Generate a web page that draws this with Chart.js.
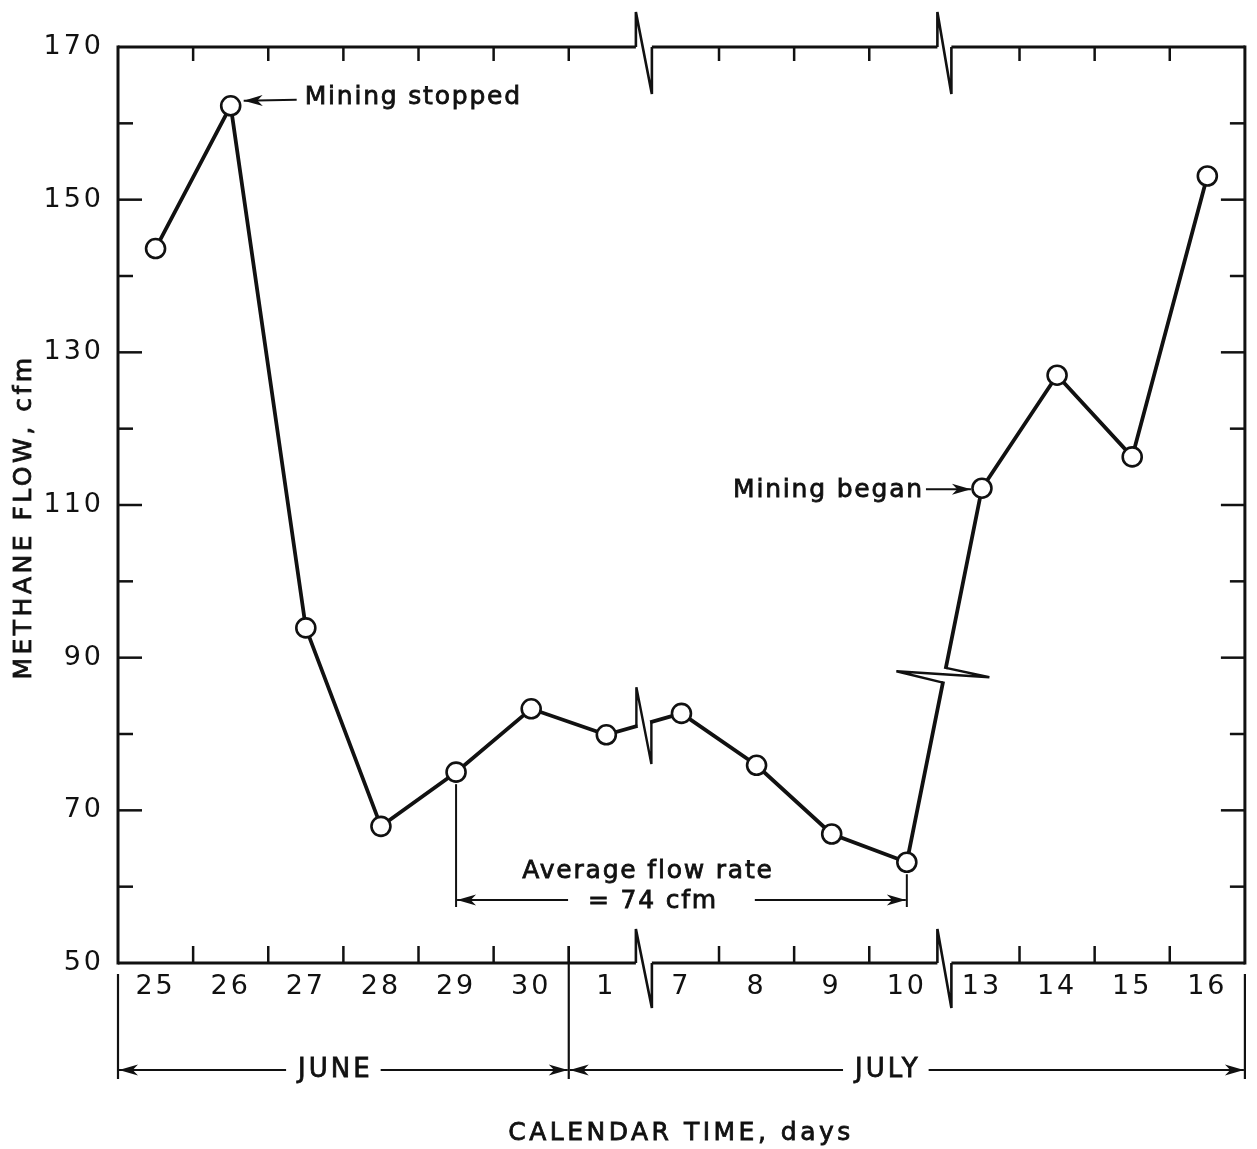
<!DOCTYPE html>
<html>
<head>
<meta charset="utf-8">
<script src="https://cdn.jsdelivr.net/npm/chart.js@4.4.0/dist/chart.umd.min.js"></script>
<style>
  html, body { margin: 0; padding: 0; background: #fff; }
  #c { display: block; }
</style>
</head>
<body>
<canvas id="c" width="1257" height="1149"></canvas>
<script>
// values
const days = ['25', '26', '27', '28', '29', '30', '1', '7', '8', '9', '10', '13', '14', '15', '16'];
const methaneFlow = [143.6, 162.3, 93.9, 67.9, 75.0, 83.3, 79.9, 82.7, 75.9, 66.9, 63.2, 112.2, 127.0, 116.3, 153.1];
const months = ['JUNE', 'JULY'];
const monthFirstDay = [0, 6];      // index into days where each month starts
const breaksAfter = [6, 10];       // axis break between days[i] and days[i+1]
const yMin = 50, yMax = 170, yStep = 10, yLabelStep = 20;

const INK = '#111';
const FONT = '"DejaVu Sans", "Liberation Sans", sans-serif';

function arrowHead(ctx, tipX, tipY, dirX, dirY) {
    const len = 19, half = 5.5;
    const n = Math.hypot(dirX, dirY);
    const ux = dirX / n, uy = dirY / n;
    const bx = tipX - ux * len, by = tipY - uy * len;
    ctx.beginPath();
    ctx.moveTo(tipX, tipY);
    ctx.lineTo(bx - uy * half, by + ux * half);
    ctx.lineTo(tipX - ux * len * 0.72, tipY - uy * len * 0.72);
    ctx.lineTo(bx + uy * half, by - ux * half);
    ctx.closePath();
    ctx.fill();
}

function line(ctx, pts, w) {
    ctx.lineWidth = w;
    ctx.beginPath();
    ctx.moveTo(pts[0][0], pts[0][1]);
    for (let i = 1; i < pts.length; i++) ctx.lineTo(pts[i][0], pts[i][1]);
    ctx.stroke();
}

function arrow(ctx, x0, y0, x1, y1, w) {
    line(ctx, [[x0, y0], [x1, y1]], w);
    arrowHead(ctx, x1, y1, x1 - x0, y1 - y0);
}

function text(ctx, str, x, y, size, align, spacing) {
    ctx.font = size + 'px ' + FONT;
    ctx.letterSpacing = spacing + 'px';
    ctx.textAlign = align;
    ctx.textBaseline = 'middle';
    ctx.lineWidth = 0.8;
    ctx.fillText(str, x, y);
    ctx.strokeText(str, x, y);
}

const decorations = {
    id: 'decorations',
    beforeDraw(chart) {
        chart.ctx.letterSpacing = '3px';
    },
    afterDatasetsDraw(chart) {
        const ctx = chart.ctx;
        const xs = chart.scales.x, ys = chart.scales.y;
        const px = i => xs.getPixelForValue(i);
        const py = i => ys.getPixelForValue(methaneFlow[i]);
        const bnd = i => (px(i) + px(i + 1)) / 2;
        ctx.save();
        ctx.strokeStyle = INK;
        ctx.fillStyle = INK;
        ctx.lineCap = 'butt';
        ctx.lineJoin = 'miter';

        // break in the curve between 1 and 7 (vertical zigzag)
        {
            const i = breaksAfter[0];
            const xa = bnd(i) - 7.5, xb = bnd(i) + 7.5;
            const yAt = x => py(i) + (py(i + 1) - py(i)) * (x - px(i)) / (px(i + 1) - px(i));
            ctx.strokeStyle = '#fff';
            line(ctx, [[xa + 1.2, yAt(xa + 1.2)], [xb - 1.2, yAt(xb - 1.2)]], 8);
            ctx.strokeStyle = INK;
            line(ctx, [[xa, yAt(xa)], [xa, yAt(xa) - 39], [xb, yAt(xb) + 42], [xb, yAt(xb)]], 2.4);
        }
        // break in the curve between 10 and 13 (horizontal zigzag)
        {
            const i = breaksAfter[1];
            const x0 = px(i), y0 = py(i), x1 = px(i + 1), y1 = py(i + 1);
            const cx = bnd(i);
            const t = (cx - x0) / (x1 - x0);
            const cy = y0 + (y1 - y0) * t;
            const L = Math.hypot(x1 - x0, y1 - y0);
            const ux = (x1 - x0) / L, uy = (y1 - y0) / L;
            const lo = [cx - ux * 7.5, cy - uy * 7.5];
            const hi = [cx + ux * 7.5, cy + uy * 7.5];
            ctx.strokeStyle = '#fff';
            line(ctx, [[lo[0] + ux * 1.2, lo[1] + uy * 1.2], [hi[0] - ux * 1.2, hi[1] - uy * 1.2]], 8);
            ctx.strokeStyle = INK;
            line(ctx, [lo, [cx - 48, cy - 4], [cx + 45, cy + 2], hi], 2.4);
        }
        ctx.restore();
    },
    afterDraw(chart) {
        const ctx = chart.ctx;
        const {left, right, top, bottom} = chart.chartArea;
        const xs = chart.scales.x, ys = chart.scales.y;
        const px = i => xs.getPixelForValue(i);
        const py = i => ys.getPixelForValue(methaneFlow[i]);
        const bnd = i => (px(i) + px(i + 1)) / 2;
        const breakX = breaksAfter.map(bnd);

        ctx.save();
        ctx.strokeStyle = INK;
        ctx.fillStyle = INK;
        ctx.lineCap = 'square';
        ctx.lineJoin = 'miter';

        // left and right axes with inward ticks
        line(ctx, [[left, top], [left, bottom]], 3);
        line(ctx, [[right, top], [right, bottom]], 3);
        ctx.lineCap = 'butt';
        for (let v = yMin + yStep; v < yMax; v += yStep) {
            const y = ys.getPixelForValue(v);
            const len = (v - yMin) % yLabelStep === 0 ? 24 : 15;
            line(ctx, [[left, y], [left + len, y]], 2.5);
            line(ctx, [[right, y], [right - len, y]], 2.5);
        }

        // top and bottom axes, broken at the gaps in the calendar
        const segs = [[left, breakX[0] - 8], [breakX[0] + 8, breakX[1] - 7], [breakX[1] + 7, right]];
        segs.forEach(s => {
            line(ctx, [[s[0], top], [s[1], top]], 3);
            line(ctx, [[s[0], bottom], [s[1], bottom]], 3);
        });
        breakX.forEach((bx, k) => {
            const h = k === 0 ? 8 : 7;
            line(ctx, [[bx - h, top], [bx - h, top - 35], [bx + h, top + 47], [bx + h, top]], 2.6);
            line(ctx, [[bx - h, bottom], [bx - h, bottom - 34], [bx + h, bottom + 45], [bx + h, bottom]], 2.6);
        });
        for (let i = 0; i < days.length - 1; i++) {
            if (breaksAfter.includes(i)) continue;
            const x = bnd(i);
            line(ctx, [[x, top], [x, top + 14]], 2.5);
            line(ctx, [[x, bottom], [x, bottom - 17]], 2.5);
        }

        // month brackets under the day labels
        const yb = 1070;
        const split = bnd(monthFirstDay[1] - 1);
        line(ctx, [[left, bottom + 11], [left, yb + 9]], 2.2);
        line(ctx, [[right, bottom + 11], [right, yb + 9]], 2.2);
        line(ctx, [[split, bottom - 17], [split, yb + 9]], 2.2);
        const spans = [[left, split, -8], [split, right, -19]];
        spans.forEach((s, k) => {
            const cx = (s[0] + s[1]) / 2 + s[2];
            ctx.font = '26px ' + FONT;
            ctx.letterSpacing = '3px';
            const w = ctx.measureText(months[k]).width;
            text(ctx, months[k], cx, yb, 26, 'center', 3);
            arrow(ctx, cx - w / 2 - 12, yb, s[0] + 1, yb, 2);
            arrow(ctx, cx + w / 2 + 8, yb, s[1] - 1, yb, 2);
        });

        // axis titles
        text(ctx, 'CALENDAR TIME, days', 681, 1133, 25, 'center', 3.5);
        ctx.save();
        ctx.translate(24, 517);
        ctx.rotate(-Math.PI / 2);
        text(ctx, 'METHANE FLOW, cfm', 0, 0, 25, 'center', 3.5);
        ctx.restore();

        // annotations
        {
            const x = px(1), y = py(1);
            arrow(ctx, x + 66, y - 6, x + 13, y - 5, 2);
            text(ctx, 'Mining stopped', x + 74, y - 8, 25, 'left', 1.8);
        }
        {
            const x = px(11), y = py(11);
            arrow(ctx, x - 56, y + 1, x - 11, y + 1, 2);
            text(ctx, 'Mining began', x - 58, y + 2, 25, 'right', 1.8);
        }
        {
            const xa = px(4), xb = px(10);
            const ya = bottom - 63;
            line(ctx, [[xa, py(4) + 12], [xa, ya + 7]], 2);
            line(ctx, [[xb, py(10) + 12], [xb, ya + 7]], 2);
            arrow(ctx, xa + 112, ya, xa + 1, ya, 2);
            arrow(ctx, xb - 152, ya, xb - 1, ya, 2);
            text(ctx, 'Average flow rate', 648, ya - 29, 25, 'center', 1.8);
            text(ctx, '= 74 cfm', 653, ya + 1, 25, 'center', 1.8);
        }
        ctx.restore();
    }
};

new Chart(document.getElementById('c'), {
    type: 'line',
    data: {
        labels: days,
        datasets: [{
            data: methaneFlow,
            borderColor: INK,
            borderWidth: 3.8,
            tension: 0,
            pointRadius: 9.5,
            pointBackgroundColor: '#fff',
            pointBorderColor: INK,
            pointBorderWidth: 2.6,
            clip: false
        }]
    },
    options: {
        responsive: false,
        animation: false,
        devicePixelRatio: 1,
        layout: { padding: { top: 47, right: 4, left: 0, bottom: 0 } },
        plugins: { legend: { display: false }, tooltip: { enabled: false } },
        scales: {
            x: {
                type: 'category',
                offset: true,
                grid: { display: false, drawTicks: false },
                border: { display: false },
                ticks: {
                    autoSkip: false, maxRotation: 0, padding: 8,
                    color: INK, font: { family: FONT, size: 27 }
                },
                afterFit(scale) { scale.height = 186; }
            },
            y: {
                min: yMin, max: yMax,
                grid: { display: false, drawTicks: false },
                border: { display: false },
                ticks: {
                    stepSize: yStep, padding: 14,
                    color: INK, font: { family: FONT, size: 27 },
                    callback: v => ((v - yMin) % yLabelStep === 0 ? String(v) : '')
                },
                afterFit(scale) { scale.width = 118; }
            }
        }
    },
    plugins: [decorations]
});
</script>
</body>
</html>
